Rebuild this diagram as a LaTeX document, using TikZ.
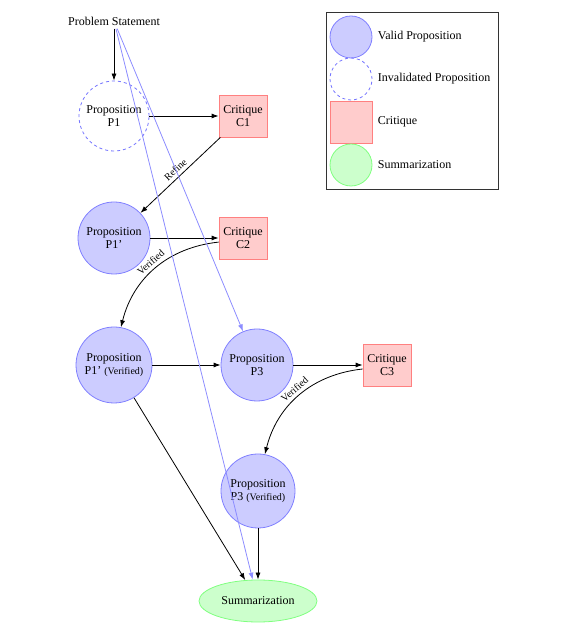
\documentclass[tikz,border=0pt]{standalone}
\usepackage{fontspec}
\setmainfont{Liberation Serif}
\usepackage{tikz}
\usetikzlibrary{shapes}
\usetikzlibrary{positioning}
\usetikzlibrary{arrows.meta}

\begin{document}
\begin{tikzpicture}[x=1pt,y=1pt,font=\fontsize{12}{13.5}\selectfont]
		\tikzstyle{valid}=[circle, align=center, inner sep=0pt, minimum size=72pt, draw=blue!50, fill=blue!20, line width=0.8pt]
		\tikzstyle{invalid}=[circle, align=center, inner sep=0pt, minimum size=70pt, draw=blue!55, dashed, line width=0.8pt]
		\tikzstyle{critique}=[rectangle, align=center, minimum width=48pt, minimum height=42pt, draw=red!50, fill=red!20, line width=0.8pt]
		\tikzstyle{summary}=[ellipse, minimum width=118pt, minimum height=42pt, draw=green!50, fill=green!20, line width=0.8pt]
		\tikzstyle{link}=[->, line width=0.8pt, color=black]
		\tikzstyle{input}=[->, line width=0.8pt, color=blue!45]
		\tikzstyle{tag}=[font=\fontsize{10}{12}\selectfont]
		\tikzset{>={Latex[length=7pt,width=5pt]}}
		\useasboundingbox (0,0) rectangle (567,629);
		\node (ps) at (114,608) {Problem Statement};
		\node[invalid] (p1) at (114,513) {Proposition\\P1};
		\node[critique] (c1) at (243,513) {Critique\\C1};
		\node[valid] (p1r) at (114,391) {Proposition\\P1'};
		\node[critique] (c2) at (243,391) {Critique\\C2};
		\node[valid, minimum size=76pt] (p1v) at (114,264) {Proposition\\P1' {\fontsize{10}{12}\selectfont(Verified)}};
		\node[valid] (p3) at (257,264) {Proposition\\P3};
		\node[critique] (c3) at (387,264) {Critique\\C3};
		\node[valid, minimum size=74pt] (p3v) at (258,138) {Proposition\\P3 {\fontsize{10}{12}\selectfont(Verified)}};
		\node[summary] (sum) at (258,28) {Summarization};
		\path (ps) edge[link] (p1);
		\path (p1) edge[link] (c1);
		\path (c1) edge[link] node[tag, sloped, above]{Refine} (p1r);
		\path (p1r) edge[link] (c2);
		\path (c2) edge[link, bend right=35] node[tag, sloped, above]{Verified} (p1v);
		\path (p1v) edge[link] (p3);
		\path (p3) edge[link] (c3);
		\path (c3) edge[link, bend right=35] node[tag, sloped, above]{Verified} (p3v);
		\path (p1v) edge[link] (sum);
		\path (p3v) edge[link] (sum);
		\path (ps) edge[input] (p3);
		\path (ps) edge[input] (sum);
		% legend
		\draw[line width=0.8pt, black!80] (326,440) rectangle (498,617);
		\node[valid, minimum size=42pt] (lvalid) at (351,592) {};
		\node[right=2pt of lvalid] (tvalid) {Valid Proposition};
		\node[invalid, minimum size=42pt] (linvalid) at (351,550) {};
		\node[right=2pt of linvalid] (tinvalid) {Invalidated Proposition};
		\node[critique, minimum width=42pt] (lcrit) at (351,507) {};
		\node[right=2pt of lcrit] (tcrit) {Critique};
		\node[circle, minimum size=42pt, draw=green!50, fill=green!20, line width=0.8pt] (lsum) at (351,464) {};
		\node[right=2pt of lsum] (tsum) {Summarization};
	\end{tikzpicture}
\end{document}
